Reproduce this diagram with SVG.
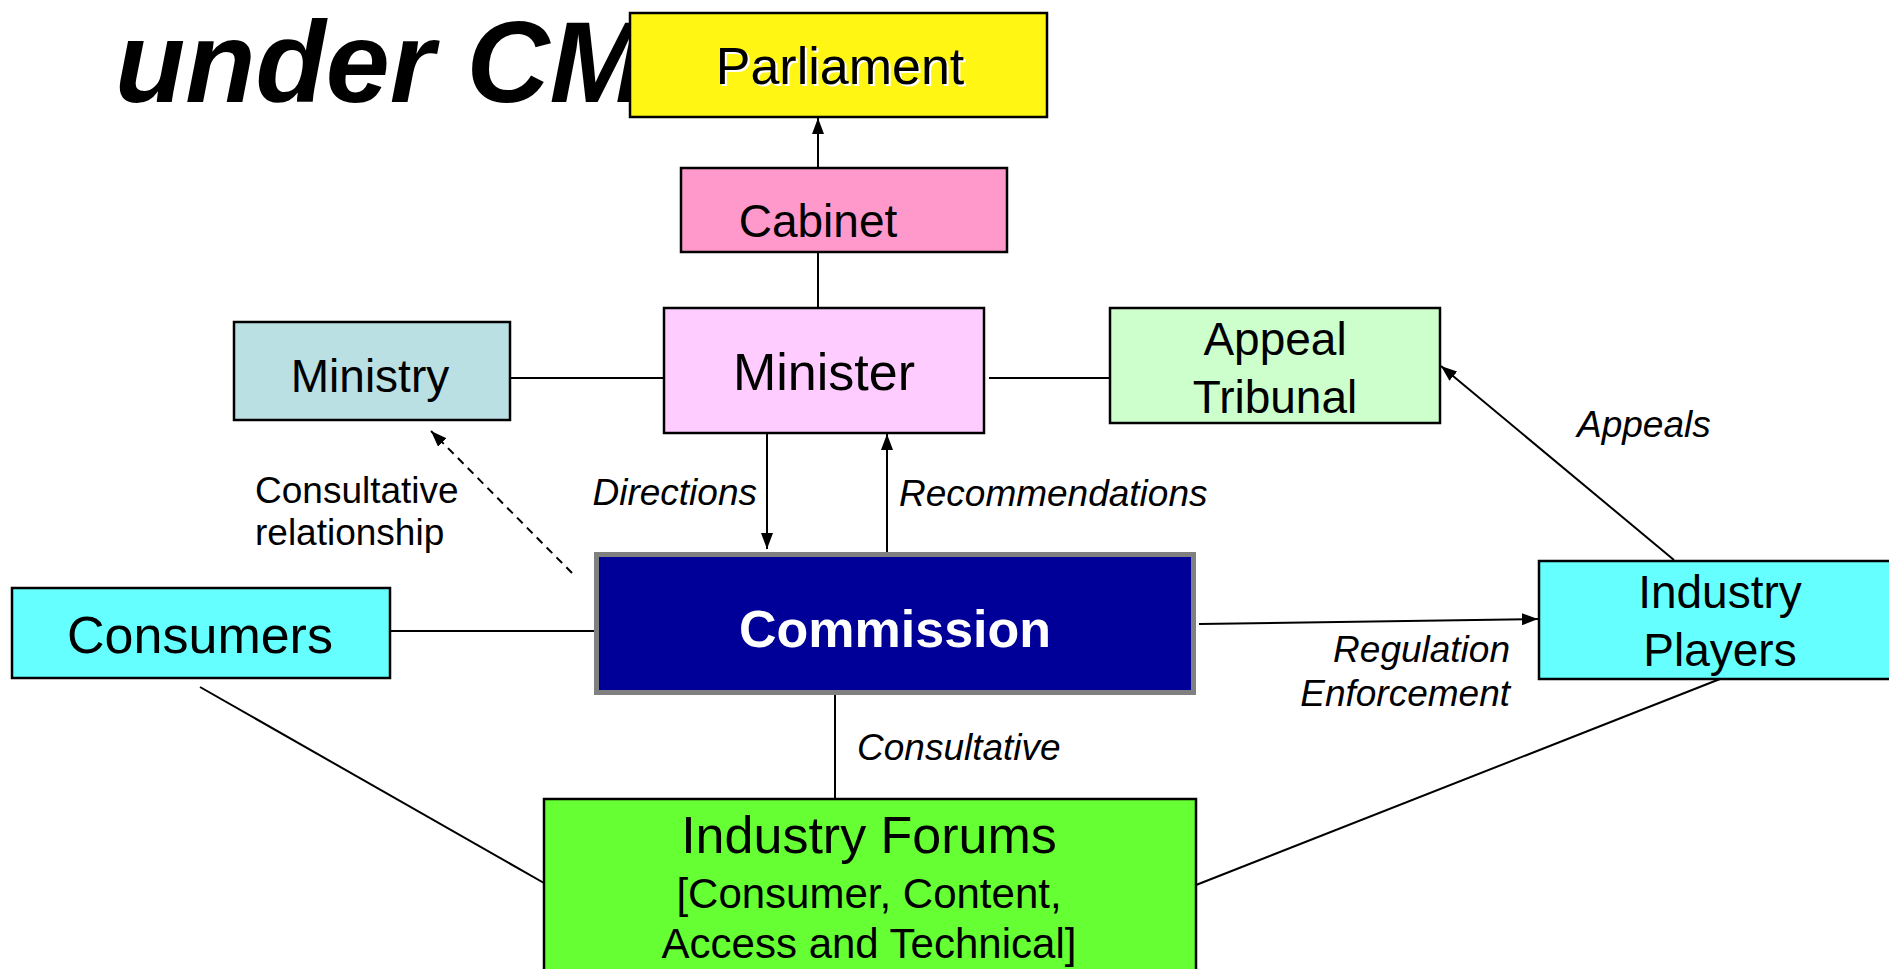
<svg xmlns="http://www.w3.org/2000/svg" width="1889" height="969" viewBox="0 0 1889 969">
<defs>
<style>
.box{stroke:#000;stroke-width:2.5}
.t{font-family:"Liberation Sans",Arial,sans-serif;fill:#000;text-anchor:middle}
.lbl{font-family:"Liberation Sans",Arial,sans-serif;font-size:37px;fill:#000;font-style:italic}
.ln{stroke:#000;stroke-width:2;fill:none}
</style>
<marker id="ah" viewBox="0 0 16 12" markerWidth="16" markerHeight="12" refX="16" refY="6" orient="auto" markerUnits="userSpaceOnUse">
<path d="M0,0 L16,6 L0,12 z" fill="#000"/>
</marker>
</defs>
<rect width="1889" height="969" fill="#fff"/>
<text x="115" y="102" font-family="Liberation Sans,Arial,sans-serif" font-size="115" font-weight="bold" font-style="italic" fill="#000">under CM</text>
<g id="connectors">
<line class="ln" x1="818" y1="167" x2="818" y2="118" marker-end="url(#ah)"/>
<line class="ln" x1="818" y1="252" x2="818" y2="308"/>
<line class="ln" x1="510" y1="378" x2="664" y2="378"/>
<line class="ln" x1="989" y1="378" x2="1110" y2="378"/>
<line class="ln" x1="767" y1="433" x2="767" y2="549" marker-end="url(#ah)"/>
<line class="ln" x1="887" y1="552" x2="887" y2="434" marker-end="url(#ah)"/>
<line class="ln" x1="572" y1="573" x2="431" y2="431" stroke-dasharray="8,6" marker-end="url(#ah)"/>
<line class="ln" x1="390" y1="631" x2="594" y2="631"/>
<line class="ln" x1="1199" y1="624" x2="1538" y2="619" stroke-width="3" marker-end="url(#ah)"/>
<line class="ln" x1="1674" y1="560" x2="1441" y2="366" marker-end="url(#ah)"/>
<line class="ln" x1="835" y1="695" x2="835" y2="799"/>
<line class="ln" x1="200" y1="687" x2="544" y2="883"/>
<line class="ln" x1="1720" y1="679" x2="1196" y2="885"/>
</g>
<g id="parliament">
<rect class="box" x="630" y="13" width="417" height="104" fill="#FFF614"/>
<text class="t" x="842" y="86" font-size="52" style="fill:#fff">Parliament</text>
<text class="t" x="840" y="84" font-size="52">Parliament</text>
</g>
<g id="cabinet">
<rect class="box" x="681" y="168" width="326" height="84" fill="#FF99CC"/>
<text class="t" x="818" y="237" font-size="46">Cabinet</text>
</g>
<g id="minister">
<rect class="box" x="664" y="308" width="320" height="125" fill="#FFCCFF"/>
<text class="t" x="824" y="390" font-size="52">Minister</text>
</g>
<g id="ministry">
<rect class="box" x="234" y="322" width="276" height="98" fill="#BBE0E3"/>
<text class="t" x="370" y="392" font-size="46">Ministry</text>
</g>
<g id="appeal-tribunal">
<rect class="box" x="1110" y="308" width="330" height="115" fill="#CCFFCC"/>
<text class="t" x="1275" y="355" font-size="46">Appeal</text>
<text class="t" x="1275" y="413" font-size="46">Tribunal</text>
</g>
<g id="commission">
<rect x="596.5" y="554.5" width="597" height="138" fill="#000099" stroke="#808080" stroke-width="5"/>
<text class="t" x="895" y="647" font-size="52" font-weight="bold" style="fill:#fff">Commission</text>
</g>
<g id="consumers">
<rect class="box" x="12" y="588" width="378" height="90" fill="#66FFFF"/>
<text class="t" x="200" y="653" font-size="52">Consumers</text>
</g>
<g id="industry-players">
<rect class="box" x="1539" y="561" width="370" height="118" fill="#66FFFF"/>
<text class="t" x="1720" y="608" font-size="46">Industry</text>
<text class="t" x="1720" y="666" font-size="46">Players</text>
</g>
<g id="industry-forums">
<rect class="box" x="544" y="799" width="652" height="190" fill="#66FF33"/>
<text class="t" x="869" y="853" font-size="52">Industry Forums</text>
<text class="t" x="869" y="908" font-size="42">[Consumer, Content,</text>
<text class="t" x="869" y="958" font-size="42">Access and Technical]</text>
</g>
<g id="labels">
<text class="lbl" x="757" y="505" text-anchor="end">Directions</text>
<text class="lbl" x="899" y="506">Recommendations</text>
<text class="lbl" x="255" y="503" style="font-style:normal">Consultative</text>
<text class="lbl" x="255" y="545" style="font-style:normal">relationship</text>
<text class="lbl" x="1577" y="437">Appeals</text>
<text class="lbl" x="1510" y="662" text-anchor="end">Regulation</text>
<text class="lbl" x="1510" y="706" text-anchor="end">Enforcement</text>
<text class="lbl" x="857" y="760">Consultative</text>
</g>
</svg>
